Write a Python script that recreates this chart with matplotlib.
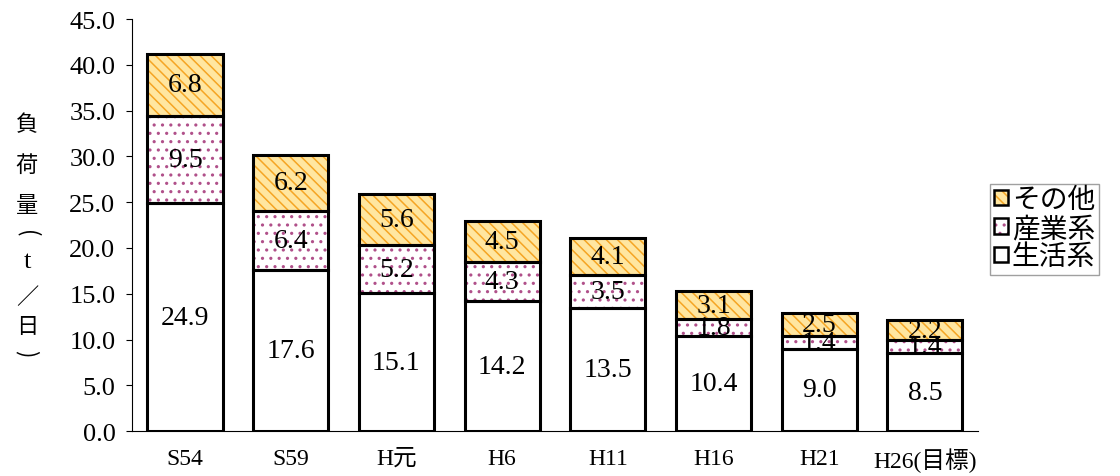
import numpy as np
import matplotlib.pyplot as plt
from matplotlib.patches import Patch

plt.rcParams['font.family'] = ['Liberation Serif', 'Noto Sans CJK JP']
plt.rcParams['hatch.linewidth'] = 1.1

# データ
years = ['S54', 'S59', 'H元', 'H6', 'H11', 'H16', 'H21', 'H26(目標)']
seikatsu = [24.9, 17.6, 15.1, 14.2, 13.5, 10.4, 9.0, 8.5]
sangyo = [9.5, 6.4, 5.2, 4.3, 3.5, 1.8, 1.4, 1.4]
sonota = [6.8, 6.2, 5.6, 4.5, 4.1, 3.1, 2.5, 2.2]
ylabel_chars = ['負', '荷', '量', '(', 't', '／', '日', ')']

fig = plt.figure(figsize=(11.2, 4.77), dpi=100)
ax = fig.add_axes([0.118, 0.094, 0.755, 0.864])

x = np.arange(len(years))
w = 0.71
seikatsu = np.array(seikatsu)
sangyo = np.array(sangyo)
sonota = np.array(sonota)
b2 = seikatsu
b3 = seikatsu + sangyo

styles = [
    ('生活系', seikatsu, 0, 'white', None, 'white'),
    ('産業系', sangyo, b2, 'white', '..', '#B0508A'),
    ('その他', sonota, b3, '#FFE6A0', '\\\\\\', '#F5A524'),
]
handles = []
for name, vals, bottom, fc, hatch, hc in styles:
    ax.bar(x, vals, w, bottom=bottom, color=fc, hatch=hatch, edgecolor=hc, linewidth=0, zorder=2)
    ax.bar(x, vals, w, bottom=bottom, fill=False, edgecolor='black', linewidth=2.2, zorder=3)
    for xi, v, b in zip(x, vals, np.zeros(len(x)) + bottom):
        ax.text(xi, b + v / 2, f'{v:.1f}', ha='center', va='center', fontsize=20, zorder=4)
    handles.append((Patch(facecolor=fc, hatch=hatch, edgecolor=hc, linewidth=0),
                    Patch(fill=False, edgecolor='black', linewidth=1.8)))

ax.set_ylim(0, 45)
ax.set_xlim(-0.5, len(years) - 0.5)
ax.set_yticks(np.arange(0, 46, 5))
ax.set_yticklabels([f'{v:.1f}' for v in np.arange(0, 46, 5)], fontsize=19)
ax.set_xticks(x)
ax.set_xticklabels(years, fontsize=17)
ax.tick_params(axis='x', length=0, pad=12)
ax.tick_params(axis='y', length=4, direction='out', pad=8)
ax.spines['top'].set_visible(False)
ax.spines['right'].set_visible(False)

# 縦書きの軸ラベル
ys = [125, 165, 205, 234, 262, 298, 327, 354]
for ch, yy in zip(ylabel_chars, ys):
    rot = -90 if ch in '()' else 0
    if ch == 't':
        fig.text(27 / 1120, 1 - yy / 477, ch, ha='center', va='center', fontsize=19,
                 family=['Liberation Serif'])
    else:
        fig.text(27 / 1120, 1 - yy / 477, ch, ha='center', va='center', fontsize=16,
                 rotation=rot, family=['Noto Sans CJK JP'])

leg = ax.legend(handles[::-1], ['その他', '産業系', '生活系'], loc='center left',
                bbox_to_anchor=(1.014, 0.49), fontsize=20, frameon=True, fancybox=False,
                edgecolor='#888888', handlelength=0.5, handleheight=0.5, handletextpad=0.15,
                borderpad=0.15, labelspacing=0.1, borderaxespad=0)
leg.get_frame().set_linewidth(1)

fig.savefig('out.png', dpi=100)
